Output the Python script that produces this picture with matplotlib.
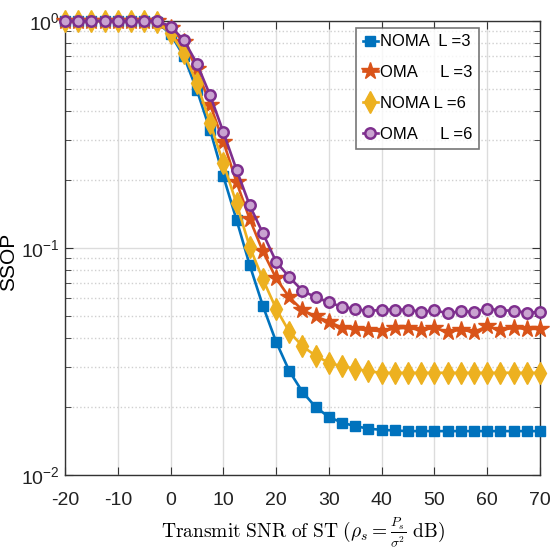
import numpy as np
import matplotlib
matplotlib.use("Agg")
import matplotlib.pyplot as plt
from matplotlib import font_manager
from matplotlib.ticker import LogLocator, NullFormatter, MultipleLocator

# narrow sans for ticks / legend, fall back to normal width if missing
names = {f.name for f in font_manager.fontManager.ttflist}
sans = "Liberation Sans Narrow" if "Liberation Sans Narrow" in names else "Liberation Sans"
plt.rcParams["font.family"] = [sans, "DejaVu Sans"]
plt.rcParams["mathtext.fontset"] = "custom"
plt.rcParams["mathtext.rm"] = sans
plt.rcParams["mathtext.it"] = sans + ":italic"
plt.rcParams["axes.unicode_minus"] = False

snr = np.arange(-20, 70.1, 2.5)

noma_l3 = [1, 1, 1, 1, 1, 1, 1, 0.985, 0.875, 0.70, 0.495, 0.33, 0.207, 0.133,
           0.084, 0.0555, 0.0386, 0.0287, 0.0232, 0.0199, 0.018, 0.017, 0.0164,
           0.016, 0.0158, 0.0157] + [0.0156] * 11
oma_l3 = [1, 1, 1, 1, 1, 1, 1, 0.995, 0.935, 0.806, 0.612, 0.428, 0.294, 0.195,
          0.134, 0.0965, 0.0735, 0.0606, 0.0532, 0.050, 0.0473, 0.0445, 0.0440,
          0.0434, 0.0430, 0.0442, 0.0445, 0.0434, 0.0445, 0.0426, 0.0437, 0.0426,
          0.0452, 0.0434, 0.0445, 0.0440, 0.0440]
noma_l6 = [1, 1, 1, 1, 1, 1, 1, 0.985, 0.885, 0.72, 0.532, 0.355, 0.236, 0.157,
           0.101, 0.0727, 0.054, 0.0427, 0.0369, 0.0335, 0.0312, 0.0301, 0.0294,
           0.0286, 0.0282] + [0.0282] * 12
oma_l6 = [1, 1, 1, 1, 1, 1, 1, 1, 0.945, 0.825, 0.648, 0.47, 0.324, 0.221, 0.154,
          0.116, 0.087, 0.0743, 0.0648, 0.0606, 0.0576, 0.055, 0.0539, 0.0526,
          0.0535, 0.0535, 0.0535, 0.0523, 0.0531, 0.0516, 0.0526, 0.0523, 0.0541,
          0.053, 0.053, 0.0518, 0.0523]

labels = ["NOMA  L =3", "OMA     L =3", "NOMA L =6", "OMA     L =6"]
colors = ["#0072BD", "#D95319", "#EDB120", "#7E2F8E"]

fig = plt.figure(figsize=(5.51, 5.51), dpi=100)
ax = fig.add_axes([0.118, 0.138, 0.862, 0.824])

ax.plot(snr, noma_l3, "-s", color=colors[0], lw=1.9, ms=6.5, mfc=colors[0],
        mec=colors[0], label=labels[0], clip_on=False, zorder=3)
ax.plot(snr, oma_l3, "-*", color=colors[1], lw=1.9, ms=13, mfc=colors[1],
        mec=colors[1], label=labels[1], clip_on=False, zorder=3)
ax.plot(snr, noma_l6, "-d", color=colors[2], lw=1.9, ms=11, mfc=colors[2],
        mec=colors[2], label=labels[2], clip_on=False, zorder=3)
ax.plot(snr, oma_l6, "-o", color=colors[3], lw=1.9, ms=7.5, mfc="#c9a3d0",
        mec=colors[3], mew=1.8, label=labels[3], clip_on=False, zorder=3)

ax.set_yscale("log")
ax.set_xlim(-20, 70)
ax.set_ylim(1e-2, 1)
ax.xaxis.set_major_locator(MultipleLocator(10))
ax.yaxis.set_major_locator(LogLocator(base=10))
ax.yaxis.set_minor_locator(LogLocator(base=10, subs=np.arange(2, 10)))
ax.yaxis.set_minor_formatter(NullFormatter())

ax.grid(True, which="major", color="#dcdcdc", lw=1.0, ls="-")
ax.grid(True, which="minor", axis="y", color="#d0d0d0", lw=1.0, ls=":")
ax.set_axisbelow(True)

ax.tick_params(which="both", direction="in", top=True, right=True,
               colors="#333333", labelcolor="#222222", labelsize=14)
ax.tick_params(which="major", length=6)
ax.tick_params(which="minor", length=4)
ax.tick_params(axis="x", pad=12)
for s in ax.spines.values():
    s.set_color("#333333")
    s.set_linewidth(1.0)

ax.set_ylabel("SSOP", fontsize=15)
ax.yaxis.set_label_coords(-0.098, 0.47)
ax.set_xlabel(r"$\mathrm{Transmit\ SNR\ of\ ST}\ (\rho_s = \frac{P_s}{\sigma^2}\ \mathrm{dB})$",
              fontsize=14, labelpad=5, math_fontfamily="cm")

leg = ax.legend(loc="upper right", bbox_to_anchor=(0.872, 0.985), fontsize=12,
                frameon=True, fancybox=False, edgecolor="#555555",
                handlelength=0.9, handletextpad=0.15, borderpad=0.4,
                labelspacing=0.95, borderaxespad=0)
leg.get_frame().set_linewidth(1.2)

fig.savefig("out.png", dpi=100)
